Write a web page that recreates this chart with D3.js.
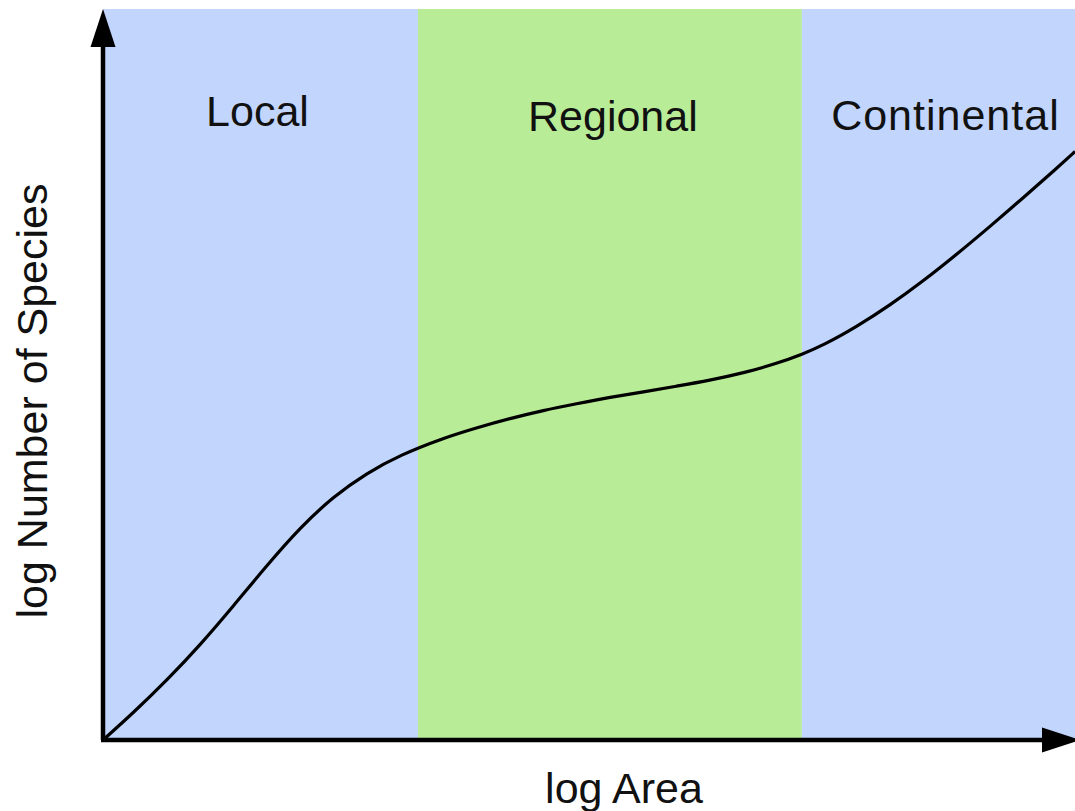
<!DOCTYPE html>
<html>
<head>
<meta charset="utf-8">
<script src="https://cdn.jsdelivr.net/npm/d3@7"></script>
<style>
  html, body { margin: 0; padding: 0; background: #ffffff; }
  svg { display: block; }
  text { font-family: "Liberation Sans", Arial, sans-serif; fill: #111; }
</style>
</head>
<body>
<svg id="chart" width="1075" height="811"></svg>
<script>
// Species–area relationship across spatial scales (log–log, arbitrary units)
const zoneNames = ["Local", "Regional", "Continental"];
const zoneStart = [0, 3.24, 7.19];
const zoneEnd = [3.24, 7.19, 10];
const zoneColors = ["#c1d5fd", "#b9ec97", "#c1d5fd"];

const logArea = [0, 0.31, 0.66, 1.0, 1.34, 1.68, 2.03, 2.37, 2.71, 3.06, 3.50, 3.84,
  4.19, 4.53, 4.87, 5.22, 5.56, 5.90, 6.24, 6.59, 6.93, 7.20, 7.41, 7.75, 8.10,
  8.44, 8.78, 9.13, 9.47, 9.81, 10.0];
const logSpecies = [0, 0.37, 0.82, 1.30, 1.83, 2.38, 2.91, 3.33, 3.65, 3.90, 4.13, 4.27,
  4.40, 4.51, 4.60, 4.69, 4.76, 4.84, 4.92, 5.02, 5.15, 5.28, 5.40, 5.65, 5.95,
  6.28, 6.64, 7.03, 7.42, 7.82, 8.05];

const xTitle = "log Area";
const yTitle = "log Number of Species";

const svg = d3.select("#chart");
const x = d3.scaleLinear().domain([0, 10]).range([103, 1075]);
const y = d3.scaleLinear().domain([0, 10]).range([740, 9]);

// background bands for each spatial scale
svg.append("g").selectAll("rect")
  .data(zoneNames)
  .join("rect")
  .attr("x", (d, i) => x(zoneStart[i]))
  .attr("y", y(10))
  .attr("width", (d, i) => x(zoneEnd[i]) - x(zoneStart[i]))
  .attr("height", y(0) - y(10))
  .attr("fill", (d, i) => zoneColors[i]);

// zone labels
const labelDx = [-3, 3, 7];
const labelY = [126, 131, 130];
const labelSpacing = [0, 0, 1];
svg.append("g").selectAll("text")
  .data(zoneNames)
  .join("text")
  .attr("x", (d, i) => (x(zoneStart[i]) + x(zoneEnd[i])) / 2 + labelDx[i])
  .attr("y", (d, i) => labelY[i])
  .attr("text-anchor", "middle")
  .style("font-size", "43px")
  .style("letter-spacing", (d, i) => labelSpacing[i] + "px")
  .text(d => d);

// species–area curve, smoothed through the sampled values
const pts = logArea.map((a, i) => [a, logSpecies[i]]);
svg.append("path")
  .datum(pts)
  .attr("fill", "none")
  .attr("stroke", "#000")
  .attr("stroke-width", 3.2)
  .attr("stroke-linejoin", "round")
  .attr("d", d3.line().x(d => x(d[0])).y(d => y(d[1])).curve(d3.curveBasis));

// axes with arrowheads
const axes = svg.append("g");
axes.append("line")
  .attr("x1", x(0)).attr("y1", y(0))
  .attr("x2", x(0)).attr("y2", 46)
  .attr("stroke", "#000").attr("stroke-width", 4.5);
axes.append("line")
  .attr("x1", x(0) - 2).attr("y1", y(0))
  .attr("x2", 1043).attr("y2", y(0))
  .attr("stroke", "#000").attr("stroke-width", 4.5);
axes.append("path")
  .attr("d", `M${x(0)},${y(10)} L${x(0) + 12.5},47 L${x(0) - 12.5},47 Z`)
  .attr("fill", "#000");
axes.append("path")
  .attr("d", `M1080,${y(0)} L1042,${y(0) - 12.5} L1042,${y(0) + 12.5} Z`)
  .attr("fill", "#000");

// axis titles
svg.append("text")
  .attr("x", 624)
  .attr("y", 803)
  .attr("text-anchor", "middle")
  .style("font-size", "43px")
  .text(xTitle);

svg.append("text")
  .attr("transform", "translate(47,401) rotate(-90)")
  .attr("text-anchor", "middle")
  .style("font-size", "43px")
  .text(yTitle);
</script>
</body>
</html>
